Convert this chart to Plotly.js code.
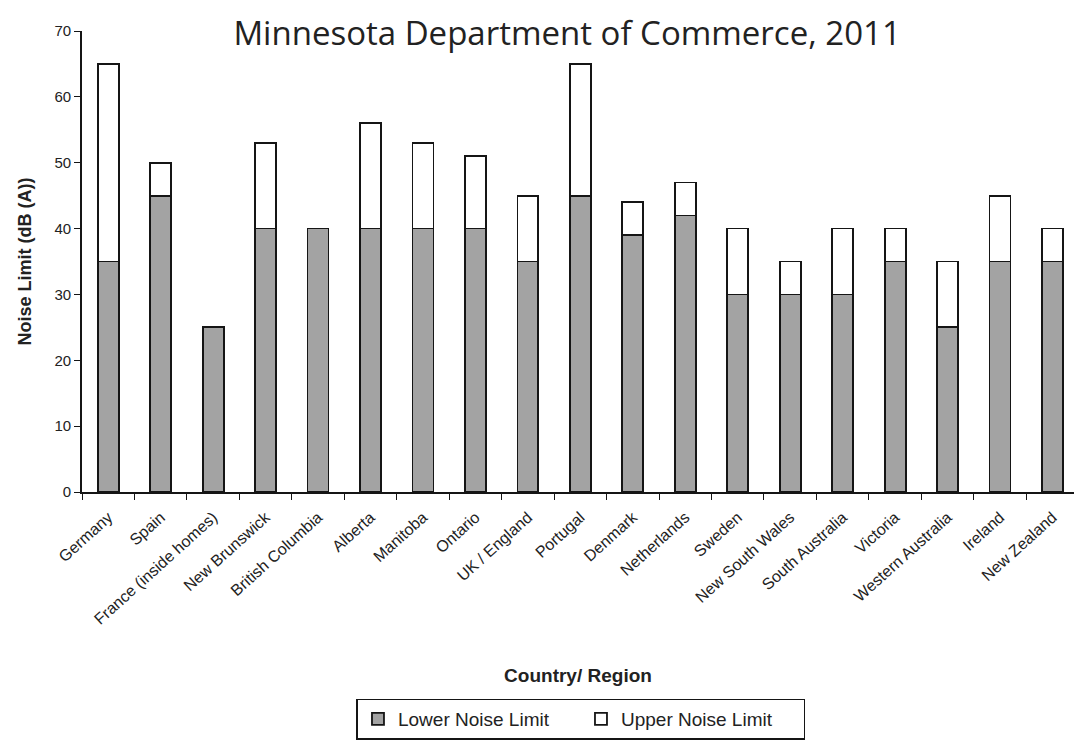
<!DOCTYPE html>
<html>
<head>
<meta charset="utf-8">
<script src="https://cdn.plot.ly/plotly-3.0.1.min.js"></script>
<style>html,body{margin:0;padding:0;background:#fff;}#chart{width:1074px;height:740px;}</style>
</head>
<body>
<div id="chart"></div>
<script>
const categories = ["Germany","Spain","France (inside homes)","New Brunswick","British Columbia","Alberta","Manitoba","Ontario","UK / England","Portugal","Denmark","Netherlands","Sweden","New South Wales","South Australia","Victoria","Western Australia","Ireland","New Zealand"];
const lowerLimit = [35,45,25,40,40,40,40,40,35,45,39,42,30,30,30,35,25,35,35];
const upperLimit = [65,50,25,53,40,56,53,51,45,65,44,47,40,35,40,40,35,45,40];
const upperPart = upperLimit.map((u,i)=>u-lowerLimit[i]);

const FONT = "Liberation Sans, Arial, sans-serif";
const traces = [
  {type:"bar", name:"Lower Noise Limit", x:categories, y:lowerLimit,
   marker:{color:"#a3a3a3", line:{color:"#151515", width:1.8}}},
  {type:"bar", name:"Upper Noise Limit", x:categories, y:upperPart,
   marker:{color:"#ffffff", line:{color:"#151515", width:1.8}}}
];
const layout = {
  width:1074, height:740,
  margin:{l:82, r:0, t:31, b:245},
  paper_bgcolor:"#fff", plot_bgcolor:"#fff",
  barmode:"stack", bargap:0.6,
  title:{text:"Minnesota Department of Commerce, 2011", x:0.489, xanchor:"center", xref:"paper", y:0.955, yanchor:"middle",
         font:{family:"Open Sans, Noto Sans, sans-serif", size:33, color:"#222"}},
  xaxis:{
    range:[-0.5, 18.41],
    tickangle:-42, tickfont:{family:FONT, size:16, color:"#222"}, showline:true, linecolor:"#151515", linewidth:1.8,
    ticks:"outside", ticklen:6, tickcolor:"#151515", tickson:"boundaries", showgrid:false,
    ticklabelstandoff:8,
    title:{text:"<b>Country/ Region</b>", font:{family:FONT, size:19, color:"#222"}, standoff:42},
    automargin:false
  },
  yaxis:{
    range:[0,70], dtick:10, tickfont:{family:FONT, size:15, color:"#222"}, showline:true, linecolor:"#151515", linewidth:1.8,
    ticks:"outside", ticklen:6, tickcolor:"#151515", showgrid:false, zeroline:false,
    title:{text:"<b>Noise Limit (dB (A))</b>", font:{family:FONT, size:18, color:"#222"}, standoff:18},
    automargin:false
  },
  legend:{orientation:"h", x:0.503, xanchor:"center", y:-0.448, yanchor:"top",
    bordercolor:"#151515", borderwidth:1.5, font:{family:FONT, size:19, color:"#222"},
    traceorder:"normal", entrywidth:178, entrywidthmode:"pixels"},
  showlegend:true
};
Plotly.newPlot("chart", traces, layout, {displayModeBar:false, staticPlot:true});
</script>
</body>
</html>
